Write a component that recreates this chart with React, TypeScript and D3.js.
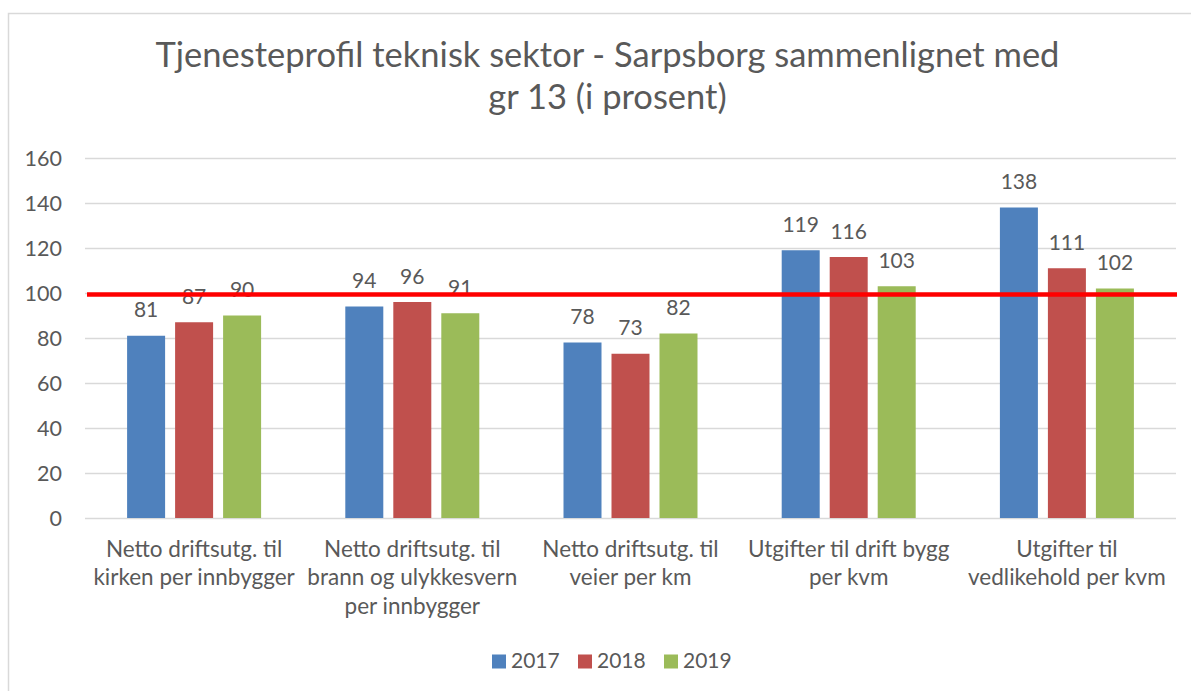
import React from "react";
import * as d3 from "d3";

const categories: string[][] = [
  ["Netto driftsutg. til", "kirken per innbygger"],
  ["Netto driftsutg. til", "brann og ulykkesvern", "per innbygger"],
  ["Netto driftsutg. til", "veier per km"],
  ["Utgifter til drift bygg", "per kvm"],
  ["Utgifter til", "vedlikehold per kvm"],
];
const categoryKeys = ["kirke", "brann", "veier", "drift", "vedlikehold"];
const years = ["2017", "2018", "2019"];
const values2017 = [81, 94, 78, 119, 138];
const values2018 = [87, 96, 73, 116, 111];
const values2019 = [90, 91, 82, 103, 102];
const yTicks = [0, 20, 40, 60, 80, 100, 120, 140, 160];
const referenceValue = 100;
const titleLines = ["Tjenesteprofil teknisk sektor - Sarpsborg sammenlignet med", "gr 13 (i prosent)"];

const colors: Record<string, string> = { "2017": "#4F81BD", "2018": "#C0504D", "2019": "#9BBB59" };
const seriesValues: Record<string, number[]> = { "2017": values2017, "2018": values2018, "2019": values2019 };

const W = 1191;
const H = 691;
const FONT = "Lato, 'Open Sans', sans-serif";
const TEXT = "#595959";

export default function App() {
  const plotLeft = 85;
  const plotRight = 1176;
  const x0 = d3.scaleBand<string>().domain(categoryKeys).range([plotLeft, plotRight]).padding(0);
  const x1 = d3
    .scaleBand<string>()
    .domain(years)
    .range([-72, 72])
    .paddingInner(10 / 48)
    .paddingOuter(5 / 48);
  const y = d3.scaleLinear().domain([0, 160]).range([518, 158]);

  const legendStep = 86;
  const legendX = d3.scaleBand<string>().domain(years).range([492, 492 + 3 * legendStep]);

  return (
    <svg
      width={W}
      height={H}
      style={{ position: "absolute", left: 0, top: 0, background: "#fff" }}
      fontFamily={FONT}
    >
      <rect x={8.5} y={13.5} width={W + 10} height={H + 10} fill="#fff" stroke="#D9D9D9" strokeWidth={1.5} />
      <g fill={TEXT} textAnchor="middle" fontSize={34.5}>
        {titleLines.map((t, i) => (
          <text key={i} x={607.5} y={67 + i * 42}>
            {t}
          </text>
        ))}
      </g>
      {/* gridlines */}
      <g>
        {yTicks.map((t) => (
          <line key={t} x1={plotLeft} x2={plotRight} y1={y(t) + 0.5} y2={y(t) + 0.5} stroke="#D9D9D9" strokeWidth={1.3} />
        ))}
      </g>
      <g fill={TEXT} fontSize={21.5} textAnchor="end">
        {yTicks.map((t) => (
          <text key={t} x={62} y={y(t)} dy="0.35em">
            {t}
          </text>
        ))}
      </g>
      {/* bars */}
      {years.map((yr) => (
        <g key={yr} fill={colors[yr]}>
          {categoryKeys.map((c, i) => {
            const cx = (x0(c) as number) + x0.bandwidth() / 2;
            const v = seriesValues[yr][i];
            return (
              <rect key={c} x={cx + (x1(yr) as number)} y={y(v)} width={x1.bandwidth()} height={y(0) - y(v)} />
            );
          })}
        </g>
      ))}
      {/* data labels */}
      {years.map((yr) => (
        <g key={yr} fill={TEXT} fontSize={21} textAnchor="middle">
          {categoryKeys.map((c, i) => {
            const cx = (x0(c) as number) + x0.bandwidth() / 2;
            const v = seriesValues[yr][i];
            return (
              <text key={c} x={cx + (x1(yr) as number) + x1.bandwidth() / 2} y={y(v) - 18.5}>
                {v}
              </text>
            );
          })}
        </g>
      ))}
      {/* reference line */}
      <line
        x1={plotLeft + 2}
        x2={plotRight + 1}
        y1={y(referenceValue) + 1.5}
        y2={y(referenceValue) + 1.5}
        stroke="#FF0000"
        strokeWidth={4.5}
      />
      {/* category labels */}
      <g fill={TEXT} fontSize={22.5} textAnchor="middle">
        {categoryKeys.map((c, i) => {
          const cx = (x0(c) as number) + x0.bandwidth() / 2;
          return categories[i].map((line, j) => (
            <text key={c + j} x={cx} y={557 + j * 28.3}>
              {line}
            </text>
          ));
        })}
      </g>
      {/* legend */}
      <g fontSize={21} fill={TEXT}>
        {years.map((yr) => {
          const lx = legendX(yr) as number;
          return (
            <g key={yr}>
              <rect x={lx} y={654.5} width={14} height={14} fill={colors[yr]} />
              <text x={lx + 19} y={668}>
                {yr}
              </text>
            </g>
          );
        })}
      </g>
    </svg>
  );
}
